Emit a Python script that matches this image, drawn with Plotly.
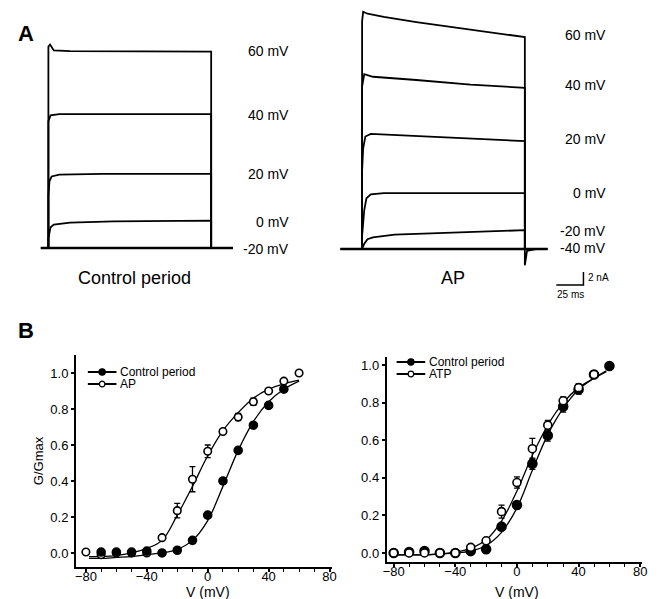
import plotly.graph_objects as go

W, H = 665, 599
FONT = "Arial, Liberation Sans, sans-serif"

# ---- panel A: current traces (time in ms, current in nA) ----
# control period
C60_T = [-7, 0, 0, 1.5, 5, 20, 150, 150, 170]
C60_I = [0, 0, 31.0, 31.3, 30.4, 30.3, 30.2, 0, 0]
C40_T = [0, 0, 2, 10, 150, 150]
C40_I = [0, 19.5, 20.4, 20.6, 20.6, 0]
C20_T = [0, 0, 1, 3, 10, 50, 150, 150]
C20_I = [0, 8.0, 10.3, 11.0, 11.3, 11.4, 11.4, 0]
C0_T = [0, 0, 2, 5, 20, 60, 150, 150]
C0_I = [0, 1.5, 3.2, 3.6, 3.9, 4.1, 4.2, 0]
CBASE_T = [-7, 170]
CBASE_I = [0, 0]

# AP
A60_T = [-20, 0, 0, 1, 5, 20, 50, 75, 100, 125, 150, 150, 152, 160, 171]
A60_I = [0, 0, 35.0, 36.5, 36.2, 35.7, 34.9, 34.3, 33.7, 33.1, 32.6, -2.5, -0.3, 0, 0]
A40_T = [0, 0, 2, 10, 50, 100, 150, 150]
A40_I = [0, 25.0, 26.9, 26.5, 26.0, 25.3, 24.8, 0]
A20_T = [0, 0, 1, 3, 8, 50, 100, 150, 150]
A20_I = [0, 12.0, 15.5, 17.3, 17.7, 17.4, 17.0, 16.6, 0]
A0_T = [0, 0, 2, 4, 8, 20, 150, 150]
A0_I = [0, 2.0, 6.0, 7.8, 8.4, 8.6, 8.6, 0]
AM20_T = [0, 2, 5, 10, 30, 80, 150, 150]
AM20_I = [0, 0.8, 1.5, 1.8, 2.2, 2.5, 2.9, 0]
ABASE_T = [-20, 171]
ABASE_I = [0, 0]

CTRL_LABELS = ["60 mV", "40 mV", "20 mV", "0 mV", "-20 mV"]
AP_LABELS = ["60 mV", "40 mV", "20 mV", "0 mV", "-20 mV", "-40 mV"]
SCALE_MS = 25
SCALE_NA = 2

# ---- panel B: G/Gmax vs V ----
CTRL_L_V = [-70, -60, -50, -40, -30, -20, -10, 0, 10, 20, 30, 40, 50]
CTRL_L_G = [0.005, 0.005, 0.005, 0.01, 0.0, 0.015, 0.07, 0.21, 0.40, 0.57, 0.71, 0.82, 0.91]
AP_V = [-80, -70, -60, -50, -40, -30, -20, -10, 0, 10, 20, 30, 40, 50, 60]
AP_G = [0.005, -0.01, 0.0, 0.0, 0.0, 0.085, 0.235, 0.41, 0.565, 0.675, 0.755, 0.84, 0.90, 0.955, 1.0]
AP_ERR = [0, 0, 0, 0, 0, 0.01, 0.04, 0.07, 0.035, 0.015, 0.02, 0.02, 0.01, 0.01, 0]
FIT_L_V = [-78, -70, -60, -50, -40, -30, -20, -10, 0, 10, 20, 30, 40, 50, 60]
CTRL_L_FIT = [-0.03, -0.03, -0.025, -0.02, -0.01, 0.0, 0.02, 0.07, 0.18, 0.37, 0.57, 0.73, 0.84, 0.91, 0.955]
AP_L_FIT = [-0.02, -0.02, -0.015, 0.0, 0.025, 0.07, 0.21, 0.37, 0.54, 0.68, 0.78, 0.86, 0.91, 0.94, 0.96]

CTRL_R_V = [-80, -70, -60, -50, -40, -30, -20, -10, 0, 10, 20, 30, 40, 50, 60]
CTRL_R_G = [0.0, 0.005, 0.01, 0.0, 0.0, 0.01, 0.02, 0.14, 0.255, 0.475, 0.625, 0.78, 0.87, 0.95, 0.995]
CTRL_R_ERR = [0, 0, 0, 0, 0, 0.01, 0.01, 0.015, 0.02, 0.03, 0.03, 0.03, 0.025, 0.01, 0]
ATP_V = [-80, -70, -60, -50, -40, -30, -20, -10, 0, 10, 20, 30, 40, 50]
ATP_G = [0.0, 0.0, 0.0, 0.0, 0.0, 0.03, 0.065, 0.22, 0.375, 0.555, 0.68, 0.81, 0.88, 0.95]
ATP_ERR = [0, 0, 0, 0, 0, 0.01, 0.015, 0.035, 0.03, 0.055, 0.025, 0.02, 0.02, 0.01]
FIT_R_V = [-80, -70, -60, -50, -40, -30, -20, -10, 0, 10, 20, 30, 40, 50, 58]
CTRL_R_FIT = [-0.01, -0.01, -0.01, -0.005, 0.0, 0.01, 0.04, 0.11, 0.24, 0.44, 0.63, 0.77, 0.87, 0.93, 0.97]
ATP_R_FIT = [-0.01, -0.01, -0.01, -0.005, 0.005, 0.025, 0.07, 0.17, 0.33, 0.52, 0.68, 0.80, 0.88, 0.93, 0.965]

LEG_LEFT = ["Control period", "AP"]
LEG_RIGHT = ["Control period", "ATP"]


def px(x):
    return x / W


def py(y):
    return 1 - y / H


fig = go.Figure()


def trace(t, i, ax, w=1.8):
    fig.add_trace(go.Scatter(x=t, y=i, mode="lines", xaxis="x" + ax, yaxis="y" + ax,
                             line=dict(color="black", width=w), showlegend=False,
                             hoverinfo="skip"))


# panel A left
trace(CBASE_T, CBASE_I, "", 2.6)
for t, i in [(C60_T, C60_I), (C40_T, C40_I), (C20_T, C20_I), (C0_T, C0_I)]:
    trace(t, i, "")
# panel A right
trace(ABASE_T, ABASE_I, "2", 2.6)
for t, i in [(A60_T, A60_I), (A40_T, A40_I), (A20_T, A20_I), (A0_T, A0_I), (AM20_T, AM20_I)]:
    trace(t, i, "2")
# scale bar
sb_t0, sb_i0 = 179, -5.54
trace([sb_t0, sb_t0 + SCALE_MS, sb_t0 + SCALE_MS],
      [sb_i0, sb_i0, sb_i0 + SCALE_NA], "2", 1.5)


def points(v, g, err, filled, ax, size):
    fig.add_trace(go.Scatter(
        x=v, y=g, mode="markers", xaxis="x" + ax, yaxis="y" + ax, showlegend=False,
        error_y=dict(type="data", array=err, visible=True, color="black",
                     thickness=1.3, width=3) if err else None,
        marker=dict(size=size, symbol="circle",
                    color="black" if filled else "white",
                    line=dict(color="black", width=1.6))))


def fit(v, g, ax):
    fig.add_trace(go.Scatter(x=v, y=g, mode="lines", line_shape="spline",
                             xaxis="x" + ax, yaxis="y" + ax, showlegend=False,
                             line=dict(color="black", width=1.3), hoverinfo="skip"))


fit(FIT_L_V, CTRL_L_FIT, "3")
fit(FIT_L_V, AP_L_FIT, "3")
points(AP_V, AP_G, AP_ERR, False, "3", 7.5)
points(CTRL_L_V, CTRL_L_G, None, True, "3", 8)

fit(FIT_R_V, CTRL_R_FIT, "4")
fit(FIT_R_V, ATP_R_FIT, "4")
points(CTRL_R_V, CTRL_R_G, CTRL_R_ERR, True, "4", 9)
points(ATP_V, ATP_G, ATP_ERR, False, "4", 8)

hidden = dict(visible=False, showgrid=False, zeroline=False)


def b_axes(xd, yd, xr, yr, ytitle):
    xa = dict(domain=[px(xd[0]), px(xd[1])], range=xr, showline=True, linewidth=2,
              linecolor="black", ticks="outside", ticklen=3, tickwidth=1.5,
              tickcolor="black", ticklabelstandoff=-7,
              tickvals=[-80, -40, 0, 40, 80], showgrid=False, zeroline=False,
              minor=dict(dtick=10, ticks="outside", ticklen=3, tickwidth=1.2,
                         tickcolor="black", showgrid=False),
              tickfont=dict(size=13, color="black"))
    ya = dict(domain=[py(yd[1]), py(yd[0])], range=yr, showline=True, linewidth=2,
              linecolor="black", ticks="outside", ticklen=3, tickwidth=1.5,
              tickcolor="black",
              tickvals=[0, 0.2, 0.4, 0.6, 0.8, 1.0], tickformat=".1f",
              showgrid=False, zeroline=False, tickfont=dict(size=13, color="black"),
              title=dict(text=ytitle, font=dict(size=13, color="black"), standoff=4))
    return xa, ya


x3, y3 = b_axes([73, 332], [355, 567], [-86.5, 81.3], [-0.078, 1.1], "G/Gmax")
x4, y4 = b_axes([388, 647], [357, 562], [-84.5, 81.3], [-0.048, 1.043], "")
x3["anchor"] = "y3"
y3["anchor"] = "x3"
x4["anchor"] = "y4"
y4["anchor"] = "x4"

annotations = [
    dict(text="<b>A</b>", x=px(12), y=py(33), font=dict(size=22)),
    dict(text="<b>B</b>", x=px(12), y=py(330), font=dict(size=22)),
    dict(text="Control period", x=px(132), y=py(278), xanchor="center", font=dict(size=18)),
    dict(text="AP", x=px(455), y=py(278), xanchor="center", font=dict(size=18)),
    dict(text="2 nA", x=px(590), y=py(278), font=dict(size=10)),
    dict(text="25 ms", x=px(574), y=py(294), xanchor="center", font=dict(size=10)),
    dict(text="V (mV)", x=px(207), y=py(592), xanchor="center", font=dict(size=14)),
    dict(text="V (mV)", x=px(520), y=py(592), xanchor="center", font=dict(size=14)),
]
for lab, yy in zip(CTRL_LABELS, [51, 115, 174, 222, 249]):
    annotations.append(dict(text=lab, x=px(291), y=py(yy), xanchor="right", font=dict(size=14)))
for lab, yy in zip(AP_LABELS, [35, 85, 139, 193, 231, 248]):
    annotations.append(dict(text=lab, x=px(612), y=py(yy), xanchor="right", font=dict(size=14)))

# hand-drawn legends (tight row spacing, like the original)
shapes = []
for names, x0, y0 in [(LEG_LEFT, 85, 372), (LEG_RIGHT, 398, 362)]:
    for k, name in enumerate(names):
        yy = y0 + 12 * k
        filled = k == 0
        shapes.append(dict(type="line", xref="paper", yref="paper",
                           x0=px(x0), x1=px(x0 + 29), y0=py(yy), y1=py(yy),
                           line=dict(color="black", width=2)))
        r = 3.2 if filled else 2.8
        shapes.append(dict(type="circle", xref="paper", yref="paper",
                           x0=px(x0 + 14.5 - r), x1=px(x0 + 14.5 + r),
                           y0=py(yy + r), y1=py(yy - r),
                           fillcolor="black" if filled else "white",
                           line=dict(color="black", width=1.2)))
        annotations.append(dict(text=name, x=px(x0 + 31), y=py(yy), font=dict(size=12)))

for a in annotations:
    a.setdefault("xanchor", "left")
    a.update(xref="paper", yref="paper", yanchor="middle", showarrow=False)

fig.update_layout(
    width=W, height=H, margin=dict(l=0, r=0, t=0, b=0),
    paper_bgcolor="white", plot_bgcolor="white", showlegend=False,
    font=dict(family=FONT, color="black"),
    xaxis=dict(domain=[px(30), px(240)], range=[-13.64, 177.27], **hidden),
    yaxis=dict(domain=[py(270), py(0)], range=[-3.385, 38.154], **hidden),
    xaxis2=dict(domain=[px(335), px(620)], range=[-25.45, 233.64], anchor="y2", **hidden),
    yaxis2=dict(domain=[py(300), py(0)], range=[-7.846, 38.308], anchor="x2", **hidden),
    xaxis3=x3, yaxis3=y3, xaxis4=x4, yaxis4=y4,
    annotations=annotations, shapes=shapes,
)

fig.write_html("out.html", config={"displayModeBar": False},
               post_script="document.body.style.margin='0px';")
